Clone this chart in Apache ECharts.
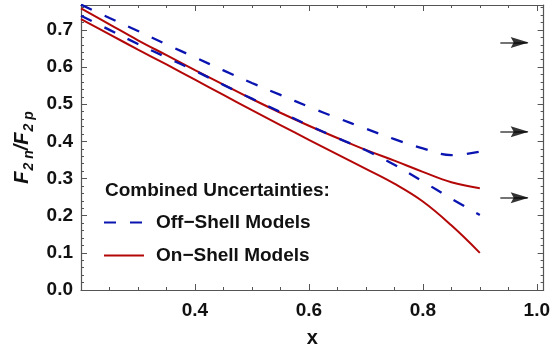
<!DOCTYPE html>
<html>
<head>
<meta charset="utf-8">
<script src="https://cdn.jsdelivr.net/npm/echarts@6/dist/echarts.min.js"></script>
<style>
    html, body { margin: 0; padding: 0; background: #fff; }
    #chartBox { width: 553px; height: 353px; }
</style>
</head>
<body>
<div id="chartBox"></div>
<script>
// F2n/F2p ratio bands, off-shell vs on-shell models

var xValues = [0.2, 0.25, 0.3, 0.35, 0.4, 0.45, 0.5, 0.55, 0.6, 0.65, 0.7, 0.75, 0.8, 0.85, 0.9];
var offShellUpper = [0.768, 0.732, 0.697, 0.661, 0.626, 0.591, 0.557, 0.525, 0.493, 0.463, 0.434, 0.406, 0.381, 0.363, 0.372];
var offShellLower = [0.738, 0.700, 0.662, 0.626, 0.590, 0.552, 0.515, 0.479, 0.443, 0.409, 0.376, 0.337, 0.292, 0.246, 0.202];
var onShellUpper = [0.758, 0.715, 0.672, 0.632, 0.592, 0.553, 0.514, 0.477, 0.442, 0.409, 0.377, 0.348, 0.318, 0.290, 0.274];
var onShellLower = [0.729, 0.688, 0.647, 0.607, 0.566, 0.525, 0.484, 0.444, 0.404, 0.365, 0.326, 0.286, 0.238, 0.174, 0.100];

// arrows on the right side (tail x, tip x) and their heights
var arrowX = [0.936, 0.984];
var arrowY = [0.666, 0.426, 0.248];

var xTickLabels = ['0.4', '0.6', '0.8', '1.0'];
var yTickLabels = ['0.0', '0.1', '0.2', '0.3', '0.4', '0.5', '0.6', '0.7'];

var X_MIN = 0.2, X_MAX = 1.012;
var Y_MIN = 0, Y_MAX = 0.767;

var blue = '#0a14b0';
var red = '#b40808';
var frameColor = '#555';
var fontName = '"Liberation Sans", Arial, sans-serif';

function pairs(ys) {
    var out = [];
    for (var i = 0; i < xValues.length; i++) {
        out.push([xValues[i], ys[i]]);
    }
    return out;
}

function fmtX(v) {
    var s = v.toFixed(1);
    return xTickLabels.indexOf(s) >= 0 && Math.abs(v - parseFloat(s)) < 1e-6 ? s : '';
}

function fmtY(v) {
    var s = v.toFixed(1);
    return yTickLabels.indexOf(s) >= 0 && Math.abs(v - parseFloat(s)) < 1e-6 ? s : '';
}

function makeXAxis(pos, interval, tickLen, showLabel, showLine) {
    return {
        type: 'value',
        position: pos,
        min: X_MIN,
        max: X_MAX,
        interval: interval,
        axisLine: { show: showLine, onZero: false, lineStyle: { color: frameColor, width: 1.2 } },
        axisTick: { show: true, inside: true, length: tickLen, lineStyle: { color: frameColor, width: 1 } },
        axisLabel: {
            show: showLabel,
            formatter: fmtX,
            margin: 11,
            color: '#111',
            fontSize: 19,
            fontWeight: 'bold',
            fontFamily: fontName
        },
        splitLine: { show: false }
    };
}

function makeYAxis(pos, interval, tickLen, showLabel, showLine) {
    return {
        type: 'value',
        position: pos,
        min: Y_MIN,
        max: Y_MAX,
        interval: interval,
        axisLine: { show: showLine, onZero: false, lineStyle: { color: frameColor, width: 1.2 } },
        axisTick: { show: true, inside: true, length: tickLen, lineStyle: { color: frameColor, width: 1 } },
        axisLabel: {
            show: showLabel,
            formatter: fmtY,
            margin: 8,
            color: '#111',
            fontSize: 19,
            fontWeight: 'bold',
            fontFamily: fontName
        },
        splitLine: { show: false }
    };
}

var xBottom = makeXAxis('bottom', 0.2, 6, true, true);
xBottom.name = 'x';
xBottom.nameLocation = 'middle';
xBottom.nameGap = 38;
xBottom.nameTextStyle = { color: '#111', fontSize: 20, fontWeight: 'bold', fontFamily: fontName };

var yLeft = makeYAxis('left', 0.1, 6, true, true);
yLeft.name = '{i|F}{s|2 n}{i|/F}{s|2 p}';
yLeft.nameLocation = 'middle';
yLeft.nameRotate = 90;
yLeft.nameGap = 44;
yLeft.nameTextStyle = {
    color: '#111',
    fontFamily: fontName,
    rich: {
        i: { fontSize: 20, fontWeight: 'bold', fontStyle: 'italic', fontFamily: fontName, color: '#111', lineHeight: 26, verticalAlign: 'middle' },
        s: { fontSize: 14, fontWeight: 'bold', fontStyle: 'italic', fontFamily: fontName, color: '#111', lineHeight: 26, verticalAlign: 'bottom', padding: [0, 0, 0, 1] }
    }
};

var shaftData = arrowY.map(function (y) {
    return { coords: [[arrowX[0], y], [arrowX[1], y]] };
});
var headData = arrowY.map(function (y) {
    return [arrowX[1], y];
});

var option = {
    animation: false,
    backgroundColor: '#fff',
    grid: { left: 81, right: 6, top: 5, bottom: 60, containLabel: false },
    xAxis: [
        xBottom,
        makeXAxis('bottom', 0.05, 3, false, false),
        makeXAxis('top', 0.2, 6, false, true),
        makeXAxis('top', 0.05, 3, false, false)
    ],
    yAxis: [
        yLeft,
        makeYAxis('left', 0.02, 3, false, false),
        makeYAxis('right', 0.1, 6, false, true),
        makeYAxis('right', 0.02, 3, false, false)
    ],
    legend: {
        orient: 'vertical',
        left: 103,
        top: 213,
        padding: 0,
        itemWidth: 40,
        itemHeight: 14,
        itemGap: 14,
        itemStyle: { opacity: 0 },
        data: ['Off\u2212Shell Models', 'On\u2212Shell Models'],
        textStyle: {
            color: '#111',
            fontSize: 19,
            fontWeight: 'bold',
            fontFamily: fontName,
            lineHeight: 18,
            padding: [0, 0, 0, 7]
        }
    },
    graphic: [
        {
            type: 'text',
            left: 105,
            top: 181,
            style: {
                text: 'Combined Uncertainties:',
                fill: '#111',
                font: 'bold 19px ' + fontName
            }
        }
    ],
    series: [
        {
            name: 'On\u2212Shell Models',
            type: 'line',
            data: pairs(onShellUpper),
            smooth: 0.4,
            symbol: 'none',
            lineStyle: { color: red, width: 2 },
            itemStyle: { color: red }
        },
        {
            name: 'On\u2212Shell Models',
            type: 'line',
            data: pairs(onShellLower),
            smooth: 0.4,
            symbol: 'none',
            lineStyle: { color: red, width: 2 },
            itemStyle: { color: red }
        },
        {
            name: 'Off\u2212Shell Models',
            type: 'line',
            data: pairs(offShellUpper),
            smooth: 0.4,
            symbol: 'none',
            lineStyle: { color: blue, width: 2.3, type: [12, 14] },
            itemStyle: { color: blue }
        },
        {
            name: 'Off\u2212Shell Models',
            type: 'line',
            data: pairs(offShellLower),
            smooth: 0.4,
            symbol: 'none',
            lineStyle: { color: blue, width: 2.3, type: [12, 14] },
            itemStyle: { color: blue }
        },
        {
            type: 'lines',
            coordinateSystem: 'cartesian2d',
            symbol: ['none', 'none'],
            lineStyle: { color: '#444', width: 1.5, opacity: 1 },
            data: shaftData,
            silent: true
        },
        {
            type: 'scatter',
            symbol: 'path://M0,0 L18,5.5 L0,11 L3,5.5 Z',
            symbolSize: [18, 11],
            symbolOffset: [-8, 0],
            itemStyle: { color: '#000' },
            data: headData,
            silent: true
        }
    ]
};

var myChart = echarts.init(document.getElementById('chartBox'));
myChart.setOption(option);
</script>
</body>
</html>
